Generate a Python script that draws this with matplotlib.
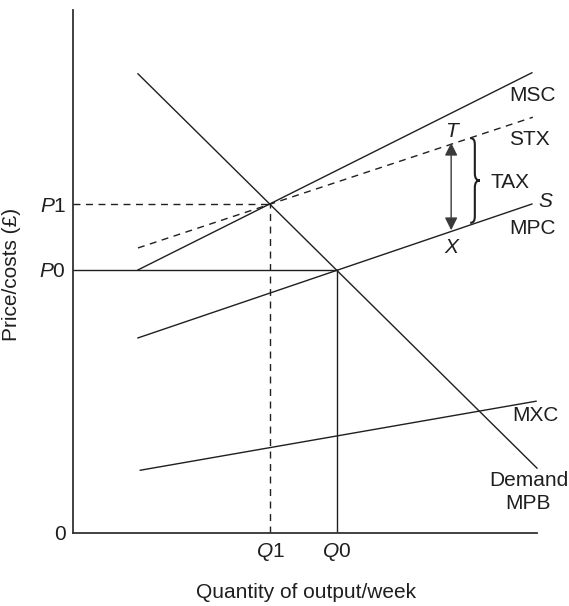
import matplotlib
matplotlib.use("Agg")
import matplotlib.pyplot as plt
from matplotlib.path import Path
from matplotlib.patches import PathPatch

plt.rcParams['font.family'] = ['Liberation Sans', 'DejaVu Sans']
plt.rcParams['mathtext.fontset'] = 'custom'
plt.rcParams['mathtext.rm'] = 'Liberation Sans'
plt.rcParams['mathtext.it'] = 'Liberation Sans:italic'

# ---- data (quantity 0-100, price 0-100) ----
demand_x = [14.0, 100.0]
demand_y = [87.8, 12.4]
msc_x = [14.0, 98.9]
msc_y = [50.3, 88.0]
stx_x = [14.0, 99.1]
stx_y = [54.5, 79.5]
mpc_x = [14.0, 98.9]
mpc_y = [37.3, 62.9]
mxc_x = [14.5, 99.8]
mxc_y = [12.0, 25.2]

Q1, Q0 = 42.5, 56.9
P1, P0 = 62.9, 50.3
tax_q = 81.5
tax_top, tax_bottom = 74.6, 57.9

ytick_vals = [0, P0, P1]
ytick_labels = ['0', r'$P$0', r'$P$1']
xtick_vals = [Q1, Q0]
xtick_labels = [r'$Q$1', r'$Q$0']

C = '#1f1f1f'
FS = 15

fig = plt.figure(figsize=(5.69, 6.06), dpi=100)
L, R, T, B = 73, 537, 10, 533
W, H = 569, 606
ax = fig.add_axes([L / W, (H - B) / H, (R - L) / W, (B - T) / H])
ax.set_xlim(0, 100)
ax.set_ylim(0, 100)
for s in ['top', 'right']:
    ax.spines[s].set_visible(False)
for s in ['left', 'bottom']:
    ax.spines[s].set_color('#333333')
    ax.spines[s].set_linewidth(1.3)

ax.set_xticks(xtick_vals)
ax.set_xticklabels(xtick_labels, fontsize=FS, color=C)
ax.set_yticks(ytick_vals)
ax.set_yticklabels(ytick_labels, fontsize=FS, color=C)
ax.tick_params(axis='y', length=0, pad=5)
ax.tick_params(axis='x', length=0, pad=6)

lw = 1.0
ax.plot(demand_x, demand_y, color=C, lw=lw, clip_on=False)
ax.plot(msc_x, msc_y, color=C, lw=lw, clip_on=False)
ax.plot(stx_x, stx_y, color=C, lw=lw, ls=(0, (5, 4)), clip_on=False)
ax.plot(mpc_x, mpc_y, color=C, lw=lw, clip_on=False)
ax.plot(mxc_x, mxc_y, color=C, lw=lw, clip_on=False)

# P0 / Q0 solid guides
ax.plot([0, Q0], [P0, P0], color=C, lw=lw)
ax.plot([Q0, Q0], [0, P0], color=C, lw=lw)
# P1 / Q1 dashed guides
ax.plot([0, Q1], [P1, P1], color=C, lw=lw, ls=(0, (5, 4)))
ax.plot([Q1, Q1], [0, P1], color=C, lw=lw, ls=(0, (5, 4)))

# tax arrow
ax.annotate('', xy=(tax_q, tax_top), xytext=(tax_q, tax_bottom),
            arrowprops=dict(arrowstyle='<|-|>', color='#3a3a3a', lw=lw,
                            mutation_scale=19, shrinkA=0, shrinkB=0))

# brace
verts = [(85.6, 75.5),
         (86.4, 75.5), (86.6, 75.0), (86.6, 74.2),
         (86.6, 68.8),
         (86.6, 67.8), (87.0, 67.4), (87.7, 67.4),
         (87.0, 67.4), (86.6, 67.0), (86.6, 66.0),
         (86.6, 60.6),
         (86.6, 59.8), (86.4, 59.3), (85.6, 59.3)]
codes = [Path.MOVETO,
         Path.CURVE4, Path.CURVE4, Path.CURVE4,
         Path.LINETO,
         Path.CURVE4, Path.CURVE4, Path.CURVE4,
         Path.CURVE4, Path.CURVE4, Path.CURVE4,
         Path.LINETO,
         Path.CURVE4, Path.CURVE4, Path.CURVE4]
ax.add_patch(PathPatch(Path(verts, codes), fill=False, ec=C, lw=1.5, clip_on=False))

def lab(x, y, s, ha='left', style='normal'):
    ax.text(x, y, s, fontsize=FS, color=C, ha=ha, va='center',
            fontstyle=style, clip_on=False)

lab(94.0, 83.7, 'MSC')
lab(94.0, 75.3, 'STX')
lab(90.0, 67.1, 'TAX')
lab(101.7, 63.3, 'S', ha='center', style='italic')
lab(94.0, 58.3, 'MPC')
lab(tax_q, 76.8, 'T', ha='center', style='italic')
lab(tax_q, 54.6, 'X', ha='center', style='italic')
lab(94.6, 22.4, 'MXC')
lab(98.3, 10.1, 'Demand', ha='center')
lab(98.0, 5.6, 'MPB', ha='center')

fig.text(12 / W, 1 - 274 / H, 'Price/costs (£)', rotation=90, ha='center',
         va='center', fontsize=FS, color=C)
fig.text(306 / W, 1 - 592 / H, 'Quantity of output/week', ha='center',
         va='center', fontsize=FS, color=C)

fig.savefig('out.png', dpi=100, facecolor='white')
